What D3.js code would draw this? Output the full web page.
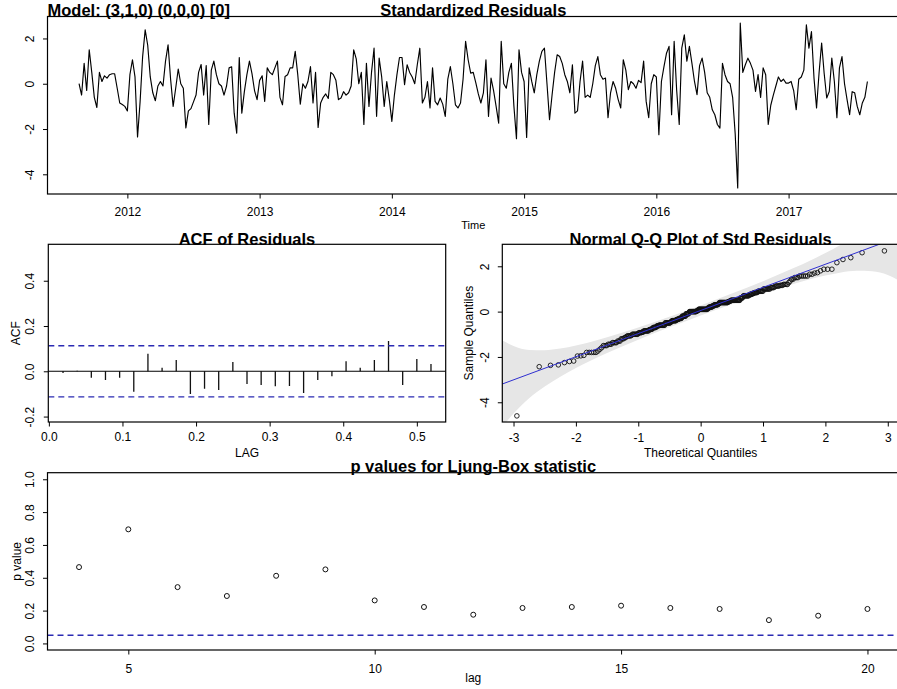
<!DOCTYPE html>
<html><head><meta charset="utf-8">
<script src="https://cdn.jsdelivr.net/npm/d3@7"></script>
<style>
body{margin:0;background:#fff}
svg{display:block}
text{font-family:"Liberation Sans",Arial,sans-serif;fill:#000}
</style>
</head><body>
<svg id="c" width="897" height="689"></svg>
<script>
// ---------------- data ----------------
const modelLabel = "Model: (3,1,0) (0,0,0) [0]";
const startTime = 2011 + 33/52;
const frequency = 52;
const residuals = [
 0, -0.5, 0.9, -0.3, 1.5, 0.5, -0.6, -1.05, 0.5, 0.1,
 0.35, 0.25, 0.4, 0.44, 0.44, -0.2, -0.85, -0.92, -1.0, -1.2,
 0.4, 1.06, 0.3, -2.35, -0.8, 1.2, 2.38, 1.7, 0.3, -0.4,
 -0.75, -0.1, 0.1, -0.1, 1.0, 1.72, 0.2, -1.0, -0.2, 0.65,
 0.0, -0.2, -1.95, -1.2, -1.1, -0.8, -0.5, 0.5, 0.85, -0.5,
 0.8,
 -1.8, 0.6, 1.0, 0.4, 0.0, -0.1, -0.5, -0.1, 0.7, 0.75,
 -1.3, -2.18, 1.16, -1.3, -0.35, 0.4, 1.0, 0.45, -0.3, -0.7,
 0.15, 0.35, -0.78, 0.7, 0.5, 0.4, 0.7, 1.0, -0.6, -0.93,
 0.32, 0.4, 0.7, 0.7, 1.43, 0.4, -0.9, 0.0, -0.2, 0.1,
 0.76, -0.85, 0.5, -1.93, -0.85, -0.6, -0.45, -0.65, 0.5, 0.4,
 0.15, -0.7,
 -0.63, -0.35, -0.5, -0.4, -0.1, 1.5, 1.1, 0.0, 0.5, -1.8,
 0.9, -1.0, 0.5, 1.57, -1.44, 1.13, 0.3, -1.0, 0.1, -0.7,
 -1.66, -0.5, 0.4, 1.16, 1.16, -0.04, 0.84, 0.5, 0.3, 0.0,
 0.84, 1.57, -0.85, -0.6, 0.1, -1.07, 0.7, -0.78, -0.93, -0.63,
 -0.9, -1.44, 0.2, 0.76, 0.0, -0.93, -1.07, -0.85, 0.2, 1.87,
 1.06, 0.47,
 0.5, 0.05, -0.45, -0.85, -0.4, 1.06, -1.44, 0.25, -0.3, -1.0,
 -1.74, 1.87, 0.0, -0.2, 0.5, 0.9, -1.0, -2.43, 1.5, 0.5,
 0.1, -2.37, 0.7, 0.1, -0.4, 0.4, 1.0, 1.43, 1.57, 0.0,
 -1.59, -0.5, 0.5, 1.28, 1.2, 0.9, 0.4, 0.1, -0.4, 0.84,
 -1.3, -1.2, 0.1, 1.0, -0.6, -0.5, -0.6, 0.0, 0.8, 1.2,
 0.4, 0.2, 0.25,
 -1.5, -0.4, 0.1, -0.2, -0.7, -1.07, 1.06, 0.6, -0.26, 0.1,
 0.0, -0.2, 0.15, 0.05, 1.0, -0.78, -1.5, 0.0, 0.4, 0.3,
 -2.25, 0.1, 0.76, 1.35, 1.65, -1.37, 1.87, -0.3, -1.8, 1.57,
 2.16, 1.0, 1.65, 0.9, 0.1, -0.48, 0.8, 1.13, 0.5, -0.4,
 -0.6, -1.15, -1.37, -1.8, -1.96, 0.9, 0.4, 0.1, 0.0, -0.6,
 -2.2,
 -4.6, 2.68, 0.5, 0.84, 1.13, 0.9, 0.6, -0.34, 0.4, -0.6,
 0.7, 0.4, -1.8, -0.95, -0.5, -0.1, 0.3, 0.1, 0.2, 0.03,
 0.03, 0.1, -0.3, -1.15, 0.2, 0.3, 0.6, 2.6, 1.57, 2.3,
 0.25, -1.07, 0.5, 1.8, 0.45, -0.63, -0.34, 1.13, 0.1, -1.5,
 0.7, 1.2, 0.0, -0.7, -1.37, -0.35, -0.4, -1.0, -1.37, -0.85,
 -0.6, 0.1
];
const timeTicks = [2012, 2013, 2014, 2015, 2016, 2017];
const residTicks = [-4, -2, 0, 2];

const acfLags = d3.range(1, 28);
const acfValues = [-0.007, 0.002, -0.028, -0.038, -0.028, -0.09, 0.077, 0.016, 0.05, -0.10,
  -0.077, -0.083, 0.041, -0.056, -0.061, -0.066, -0.065, -0.096, -0.038, -0.022,
  0.044, 0.016, 0.05, 0.134, -0.06, 0.054, 0.032];
const acfBound = 0.113;
const acfXTicks = [0.0, 0.1, 0.2, 0.3, 0.4, 0.5];
const acfYTicks = [-0.2, 0.0, 0.2, 0.4];

const qqIntercept = 0.05, qqSlope = 1.02;
const bandZ  = [-3.3, -3.19, -3.0, -2.75, -2.5, -2.25, -2.0, -1.75, -1.5, -1.0, -0.5, 0, 0.5, 1.0, 1.5, 1.75, 2.0, 2.25, 2.5, 2.75, 3.0, 3.19, 3.3];
const bandHi = [-1.1, -1.26, -1.52, -1.69, -1.70, -1.63, -1.49, -1.33, -1.13, -0.70, -0.225, 0.27, 0.795, 1.34, 1.93, 2.245, 2.59, 2.965, 3.40, 3.925, 4.60, 5.24, 5.7];
const bandLo = [-5.6, -5.14, -4.50, -3.82, -3.30, -2.87, -2.49, -2.15, -1.83, -1.24, -0.695, -0.17, 0.325, 0.80, 1.23, 1.425, 1.59, 1.725, 1.80, 1.785, 1.62, 1.36, 1.2];
const qqXTicks = [-3, -2, -1, 0, 1, 2, 3];
const qqYTicks = [-4, -2, 0, 2];

const lbLags = d3.range(4, 21);
const lbPvalues = [0.465, 0.695, 0.343, 0.289, 0.412, 0.451, 0.262, 0.222, 0.175, 0.216,
  0.222, 0.230, 0.216, 0.21, 0.142, 0.169, 0.21];
const lbLevel = 0.05;
const lbXTicks = [5, 10, 15, 20];
const lbYTicks = [0.0, 0.2, 0.4, 0.6, 0.8, 1.0];

// ---------------- helpers ----------------
const svg = d3.select("#c");
const BLUE = "#2b2bb3";
const tickFont = "12px", labFont = "12px", titleSize = "16.5px";

function qnorm(p){
  const a=[-3.969683028665376e+01,2.209460984245205e+02,-2.759285104469687e+02,1.383577518672690e+02,-3.066479806614716e+01,2.506628277459239e+00];
  const b=[-5.447609879822406e+01,1.615858368580409e+02,-1.556989798598866e+02,6.680131188771972e+01,-1.328068155288572e+01];
  const c=[-7.784894002430293e-03,-3.223964580411365e-01,-2.400758277161838e+00,-2.549732539343734e+00,4.374664141464968e+00,2.938163982698783e+00];
  const d=[7.784695709041462e-03,3.224671290700398e-01,2.445134137142996e+00,3.754408661907416e+00];
  const pl=0.02425, ph=1-pl; let q,r;
  if(p<pl){q=Math.sqrt(-2*Math.log(p));return (((((c[0]*q+c[1])*q+c[2])*q+c[3])*q+c[4])*q+c[5])/((((d[0]*q+d[1])*q+d[2])*q+d[3])*q+1);}
  if(p<=ph){q=p-0.5;r=q*q;return (((((a[0]*r+a[1])*r+a[2])*r+a[3])*r+a[4])*r+a[5])*q/(((((b[0]*r+b[1])*r+b[2])*r+b[3])*r+b[4])*r+1);}
  q=Math.sqrt(-2*Math.log(1-p));return -(((((c[0]*q+c[1])*q+c[2])*q+c[3])*q+c[4])*q+c[5])/((((d[0]*q+d[1])*q+d[2])*q+d[3])*q+1);
}

let clipId = 0;
function panel(box){
  const id = "clip" + (clipId++);
  svg.append("clipPath").attr("id", id).append("rect")
    .attr("x", box.x0).attr("y", box.y0).attr("width", box.x1-box.x0).attr("height", box.y1-box.y0);
  const g = svg.append("g");
  const inner = g.append("g").attr("clip-path", `url(#${id})`);
  return {g, inner};
}
function frame(g, box){
  g.append("rect").attr("x", box.x0).attr("y", box.y0)
    .attr("width", box.x1-box.x0).attr("height", box.y1-box.y0)
    .attr("fill","none").attr("stroke","#000").attr("stroke-width",1.2);
}
function xAxis(g, box, x, ticks, fmt, off){
  const ax = g.append("g").attr("transform", `translate(0,${box.y1})`)
    .call(d3.axisBottom(x).tickValues(ticks).tickSize(4.5).tickFormat(fmt));
  ax.select(".domain").remove();
  ax.selectAll("line").attr("stroke","#000");
  ax.selectAll("text").attr("y", off).attr("dy", 0).style("font-size", tickFont).attr("fill","#000");
}
function yAxis(g, box, y, ticks, fmt, off){
  const ax = g.append("g").attr("transform", `translate(${box.x0},0)`)
    .call(d3.axisLeft(y).tickValues(ticks).tickSize(4.5).tickFormat(fmt));
  ax.select(".domain").remove();
  ax.selectAll("line").attr("stroke","#000");
  ax.selectAll("text").attr("x", 0).attr("dy", 0).attr("text-anchor","middle")
    .attr("transform", `translate(${-off},0) rotate(-90)`).style("font-size", tickFont).attr("fill","#000");
}
function label(txt, x, y, rot, size, weight){
  const t = svg.append("text").text(txt).attr("text-anchor","middle")
    .style("font-size", size).style("font-weight", weight || "normal");
  if (rot) t.attr("transform", `translate(${x},${y}) rotate(-90)`);
  else t.attr("x", x).attr("y", y);
  return t;
}

// ---------------- panel 1: standardized residuals ----------------
{
  const box = {x0:47.5, x1:899, y0:16.5, y1:194};
  const x = d3.scaleLinear().domain([2011.396, 2017.835]).range([box.x0, box.x1]);
  const y = d3.scaleLinear().domain([-4.87, 2.97]).range([box.y1, box.y0]);
  const {g, inner} = panel(box);
  const line = d3.line().x((d,i)=>x(startTime + i/frequency)).y(d=>y(d));
  inner.append("path").datum(residuals).attr("d", line)
    .attr("fill","none").attr("stroke","#000").attr("stroke-width",1.15).attr("stroke-linejoin","round");
  frame(g, box);
  xAxis(g, box, x, timeTicks, d=>String(d), 21.5);
  yAxis(g, box, y, residTicks, d=>String(d), 13.5);
  label("Time", (box.x0+box.x1)/2, 228.5, false, "11px");
  svg.append("text").text(modelLabel).attr("x", box.x0).attr("y", 15.5)
    .style("font-size",titleSize).style("font-weight","bold");
  label("Standardized Residuals", (box.x0+box.x1)/2, 15.5, false, titleSize, "bold");
}

// ---------------- panel 2: ACF ----------------
{
  const box = {x0:48.3, x1:445.7, y0:244.3, y1:422};
  const x = d3.scaleLinear().domain([1/frequency - 0.02, 27/frequency + 0.02]).range([box.x0, box.x1]);
  const y = d3.scaleLinear().domain([-0.224, 0.561]).range([box.y1, box.y0]);
  const {g, inner} = panel(box);
  inner.selectAll("line.bar").data(acfValues).join("line").attr("class","bar")
    .attr("x1",(d,i)=>x(acfLags[i]/frequency)).attr("x2",(d,i)=>x(acfLags[i]/frequency))
    .attr("y1", y(0)).attr("y2", d=>y(d)).attr("stroke","#111").attr("stroke-width",1.3);
  inner.append("line").attr("x1",box.x0).attr("x2",box.x1).attr("y1",y(0)).attr("y2",y(0))
    .attr("stroke","#000").attr("stroke-width",1.1);
  [acfBound, -acfBound].forEach(v=>{
    inner.append("line").attr("x1",box.x0).attr("x2",box.x1).attr("y1",y(v)).attr("y2",y(v))
      .attr("stroke",BLUE).attr("stroke-width",1.4).attr("stroke-dasharray","6,4");
  });
  frame(g, box);
  xAxis(g, box, x, acfXTicks, d=>d.toFixed(1), 18.5);
  yAxis(g, box, y, acfYTicks, d=>d.toFixed(1), 14.8);
  label("LAG", (box.x0+box.x1)/2, 457, false, labFont);
  label("ACF", box.x0-28, (box.y0+box.y1)/2, true, labFont);
  label("ACF of Residuals", (box.x0+box.x1)/2, 244.5, false, titleSize, "bold");
}

// ---------------- panel 3: Normal Q-Q ----------------
{
  const box = {x0:502.3, x1:899, y0:244.3, y1:422};
  const x = d3.scaleLinear().domain([-3.18, 3.18]).range([box.x0, box.x1]);
  const y = d3.scaleLinear().domain([-4.87, 2.97]).range([box.y1, box.y0]);
  const {g, inner} = panel(box);
  const area = d3.area().x((d,i)=>x(bandZ[i])).y0((d,i)=>y(bandLo[i])).y1((d,i)=>y(bandHi[i]))
    .curve(d3.curveMonotoneX);
  inner.append("path").datum(bandZ).attr("d", area).attr("fill","#e6e6e6").attr("stroke","none");
  const n = residuals.length;
  const sorted = residuals.slice().sort(d3.ascending);
  const pts = sorted.map((v,i)=>({z: qnorm((i+1-0.5)/n), v}));
  inner.selectAll("circle").data(pts).join("circle")
    .attr("cx", d=>x(d.z)).attr("cy", d=>y(d.v)).attr("r", 2.3)
    .attr("fill","none").attr("stroke","#111").attr("stroke-width",0.9);
  const zs = x.domain();
  inner.append("line").attr("x1", x(zs[0])).attr("x2", x(zs[1]))
    .attr("y1", y(qqIntercept + qqSlope*zs[0])).attr("y2", y(qqIntercept + qqSlope*zs[1]))
    .attr("stroke","#2f2fd0").attr("stroke-width",1);
  frame(g, box);
  xAxis(g, box, x, qqXTicks, d=>String(d), 19.5);
  yAxis(g, box, y, qqYTicks, d=>String(d), 13);
  label("Theoretical Quantiles", (box.x0+box.x1)/2, 457, false, labFont);
  label("Sample Quantiles", box.x0-29, (box.y0+box.y1)/2, true, labFont);
  label("Normal Q-Q Plot of Std Residuals", (box.x0+box.x1)/2, 244.5, false, titleSize, "bold");
}

// ---------------- panel 4: Ljung-Box ----------------
{
  const box = {x0:47.5, x1:899, y0:472.7, y1:650};
  const x = d3.scaleLinear().domain([3.36, 20.64]).range([box.x0, box.x1]);
  const y = d3.scaleLinear().domain([-0.04, 1.04]).range([box.y1, box.y0]);
  const {g, inner} = panel(box);
  inner.append("line").attr("x1",box.x0).attr("x2",box.x1).attr("y1",y(lbLevel)).attr("y2",y(lbLevel))
    .attr("stroke",BLUE).attr("stroke-width",1.4).attr("stroke-dasharray","6,4");
  inner.selectAll("circle").data(lbPvalues).join("circle")
    .attr("cx",(d,i)=>x(lbLags[i])).attr("cy", d=>y(d)).attr("r", 2.5)
    .attr("fill","none").attr("stroke","#111").attr("stroke-width",1);
  frame(g, box);
  xAxis(g, box, x, lbXTicks, d=>String(d), 23);
  yAxis(g, box, y, lbYTicks, d=>d.toFixed(1), 14);
  label("lag", (box.x0+box.x1)/2, 682, false, labFont);
  label("p value", box.x0-27, (box.y0+box.y1)/2, true, labFont);
  label("p values for Ljung-Box statistic", (box.x0+box.x1)/2, 472, false, titleSize, "bold");
}
</script>
</body></html>
